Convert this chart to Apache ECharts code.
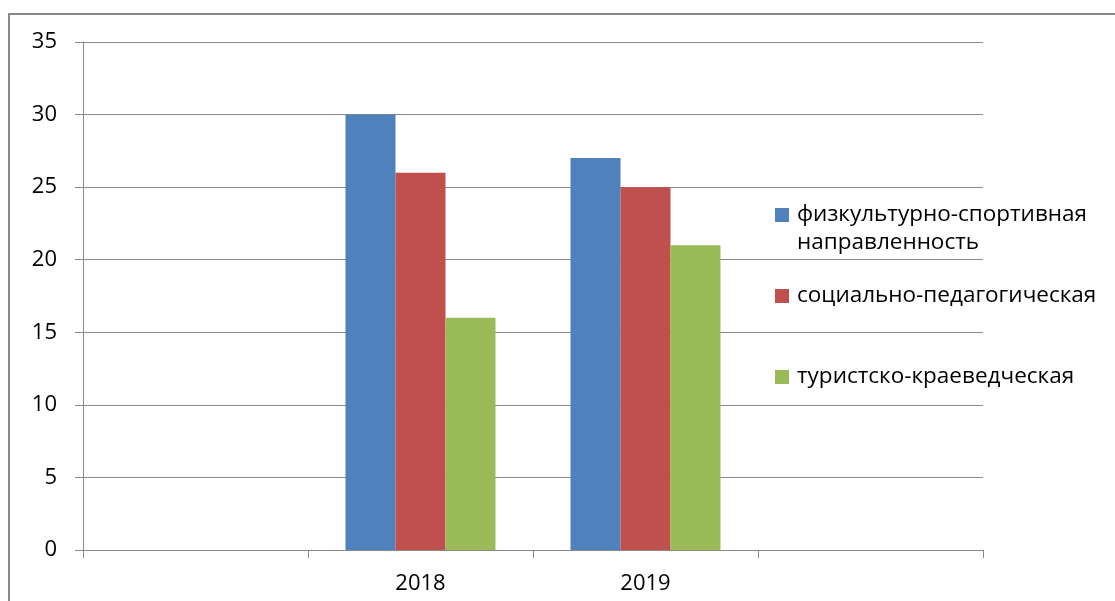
<!DOCTYPE html>
<html>
<head>
<meta charset="utf-8">
<script src="https://cdn.jsdelivr.net/npm/echarts@6/dist/echarts.min.js"></script>
<style>
  html, body { margin: 0; padding: 0; background: #fff; }
  #main { width: 1115px; height: 601px; }
</style>
</head>
<body>
<div id="main"></div>
<script>
// данные диаграммы
var categories = ['', '2018', '2019', ''];
var seriesNames = ['физкультурно-спортивная направленность', 'социально-педагогическая', 'туристско-краеведческая'];
var sportValues = [null, 30, 27, null];
var socialValues = [null, 26, 25, null];
var tourValues = [null, 16, 21, null];
var colors = ['#4F81BD', '#C0504D', '#9BBB59'];

var myChart = echarts.init(document.getElementById('main'));
var font = '"Open Sans", "Noto Sans", sans-serif';
var gray = '#898989';

// первая подпись легенды переносится на две строки: вторую строку рисуем отдельно
function legendAt(name, top, label) {
    return {
        orient: 'vertical',
        left: 775,
        top: top,
        padding: 0,
        itemWidth: 14,
        itemHeight: 14,
        itemGap: 0,
        icon: 'rect',
        data: [name],
        selectedMode: false,
        formatter: function () { return label; },
        textStyle: { fontFamily: font, fontSize: 22.5, color: '#000', lineHeight: 26, padding: [0, 0, 0, 3] }
    };
}

var option = {
    animation: false,
    color: colors,
    graphic: [{
        type: 'rect',
        shape: { x: 9, y: 14, width: 1200, height: 700 },
        style: { fill: 'none', stroke: gray, lineWidth: 2 },
        silent: true
    }, {
        type: 'text',
        left: 797,
        top: 231,
        style: { text: 'направленность', font: '22.5px "Open Sans", sans-serif', fill: '#000' },
        silent: true
    }],
    legend: [
        legendAt(seriesNames[0], 202, 'физкультурно-спортивная'),
        legendAt(seriesNames[1], 283, seriesNames[1]),
        legendAt(seriesNames[2], 364, seriesNames[2])
    ],
    grid: { left: 83, top: 42, width: 900, height: 508 },
    xAxis: {
        type: 'category',
        data: categories,
        boundaryGap: true,
        axisLine: { lineStyle: { color: gray, width: 1 } },
        axisTick: { show: true, interval: 0, length: 8, lineStyle: { color: gray } },
        axisLabel: { interval: 0, margin: 23, fontFamily: font, fontSize: 22, color: '#000' }
    },
    yAxis: {
        type: 'value',
        min: 0,
        max: 35,
        interval: 5,
        axisLine: { show: true, lineStyle: { color: gray, width: 1 } },
        axisTick: { show: true, length: 8, lineStyle: { color: gray } },
        splitLine: { lineStyle: { color: gray, width: 1 } },
        axisLabel: { margin: 26, fontFamily: font, fontSize: 22, color: '#000' }
    },
    series: [
        { name: seriesNames[0], type: 'bar', data: sportValues, barWidth: 50, barGap: '0%' },
        { name: seriesNames[1], type: 'bar', data: socialValues, barWidth: 50, barGap: '0%' },
        { name: seriesNames[2], type: 'bar', data: tourValues, barWidth: 50, barGap: '0%' }
    ]
};
myChart.setOption(option);
</script>
</body>
</html>
